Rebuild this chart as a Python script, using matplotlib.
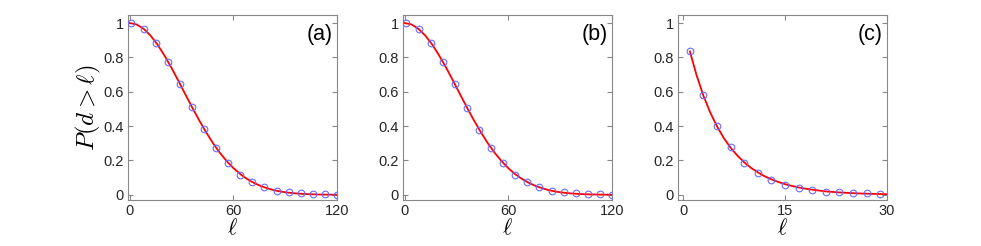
import matplotlib.pyplot as plt

plt.rcParams["font.family"] = ["Liberation Sans", "DejaVu Sans"]
plt.rcParams["mathtext.fontset"] = "cm"

# panel (a)
xa = [1, 8, 15, 22, 29, 36, 43, 50, 57, 64, 71, 78, 85, 92, 99, 106, 113, 120]
ya = [1.0, 0.963, 0.885, 0.775, 0.647, 0.51, 0.382, 0.274, 0.184, 0.118,
      0.072, 0.043, 0.024, 0.014, 0.008, 0.005, 0.003, 0.002]
# panel (b)
xb = [1, 8, 15, 22, 29, 36, 43, 50, 57, 64, 71, 78, 85, 92, 99, 106, 113, 120]
yb = [1.0, 0.963, 0.885, 0.775, 0.643, 0.507, 0.379, 0.274, 0.186, 0.118,
      0.072, 0.043, 0.024, 0.014, 0.008, 0.005, 0.003, 0.002]
# panel (c)
xc = [1, 3, 5, 7, 9, 11, 13, 15, 17, 19, 21, 23, 25, 27, 29]
yc = [0.835, 0.579, 0.398, 0.276, 0.186, 0.128, 0.089, 0.060, 0.041, 0.027,
      0.019, 0.014, 0.010, 0.008, 0.004]

# fitted curves (red lines)
xfit_ab = [0, 4, 8, 12, 16, 20, 24, 28, 32, 36, 40, 44, 48, 52, 56, 60,
           64, 68, 72, 76, 80, 84, 88, 92, 96, 100, 104, 108, 112, 116, 120]
yfit_a = [1.0, 0.992, 0.967, 0.928, 0.876, 0.813, 0.743, 0.667, 0.589, 0.512,
          0.438, 0.368, 0.304, 0.247, 0.198, 0.156, 0.121, 0.092, 0.069, 0.051,
          0.037, 0.026, 0.018, 0.0126, 0.0086, 0.0057, 0.0037, 0.0024, 0.0015,
          0.001, 0.0006]
yfit_b = [1.0, 0.992, 0.966, 0.926, 0.874, 0.810, 0.740, 0.664, 0.586, 0.509,
          0.435, 0.366, 0.302, 0.246, 0.197, 0.155, 0.120, 0.092, 0.069, 0.051,
          0.037, 0.026, 0.018, 0.0126, 0.0086, 0.0057, 0.0037, 0.0024, 0.0015,
          0.001, 0.0006]
xfit_c = list(range(1, 31))
yfit_c = [0.835, 0.694, 0.576, 0.479, 0.398, 0.330, 0.274, 0.228, 0.189, 0.157,
          0.131, 0.108, 0.090, 0.075, 0.062, 0.052, 0.043, 0.036, 0.030, 0.025,
          0.020, 0.017, 0.014, 0.012, 0.0097, 0.008, 0.0067, 0.0055, 0.0046, 0.0038]

panels = [
    (xa, ya, xfit_ab, yfit_a, "(a)", (-1, 120), [0, 60, 120]),
    (xb, yb, xfit_ab, yfit_b, "(b)", (-1, 120), [0, 60, 120]),
    (xc, yc, xfit_c, yfit_c, "(c)", (-0.75, 30), [0, 15, 30]),
]

fig = plt.figure(figsize=(9.81, 2.46), dpi=100)
W, H = 981, 246
lefts = [128, 403, 678]
for i, (x, y, xf, yf, lab, xl, xt) in enumerate(panels):
    ax = fig.add_axes([lefts[i] / W, 1 - 200 / H, 209 / W, 185 / H])
    ax.plot(xf, yf, color="red", lw=1.3, zorder=2)
    ax.plot(x, y, "o", mfc="none", mec="#6a6aff", ms=4.8, mew=0.8, zorder=3)
    ax.set_xlim(*xl)
    ax.set_ylim(-0.03, 1.047)
    ax.set_xticks(xt)
    ax.set_yticks([0, 0.2, 0.4, 0.6, 0.8, 1])
    ax.set_yticklabels(["0", "0.2", "0.4", "0.6", "0.8", "1"])
    ax.tick_params(direction="in", top=True, right=True, length=3.5, width=0.8,
                   colors="#888888", labelcolor="#262626", labelsize=10.5, pad=3)
    for s in ax.spines.values():
        s.set_color("#888888")
        s.set_linewidth(0.8)
    ax.set_xlabel(r"$\ell$", fontsize=16, labelpad=0)
    ax.text(0.98, 0.95, lab, transform=ax.transAxes, ha="right", va="top",
            fontsize=15.5, color="black")
    if i == 0:
        ax.set_ylabel(r"$P(d>\ell)$", fontsize=18, labelpad=0)

fig.savefig("out.png", dpi=100)
